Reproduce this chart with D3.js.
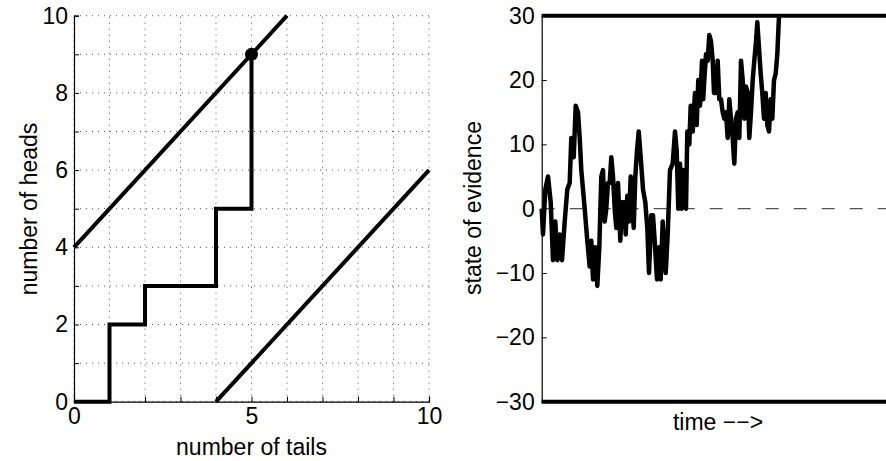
<!DOCTYPE html>
<html>
<head>
<meta charset="utf-8">
<script src="https://cdn.jsdelivr.net/npm/d3@7"></script>
<style>
  body { margin: 0; background: #fff; }
  svg text { font-family: "Liberation Sans", Arial, Helvetica, sans-serif; font-size: 23px; fill: #000; }
</style>
</head>
<body>
<script>
// left panel: coin flips
const gridSteps = [0, 1, 2, 3, 4, 5, 6, 7, 8, 9, 10];
const tailsLabels = [0, 5, 10];
const headsLabels = [0, 2, 4, 6, 8, 10];
const pathTails = [0, 1, 1, 2, 2, 4, 4, 5, 5];
const pathHeads = [0, 0, 2, 2, 3, 3, 5, 5, 9];
const upperTails = [0, 6];
const upperHeads = [4, 10];
const lowerTails = [4, 10];
const lowerHeads = [0, 6];
const stopPoint = [5, 9];

// right panel: random walk of evidence
const evidenceTicks = [-30, -20, -10, 0, 10, 20, 30];
const thresholds = [-30, 30];
const walkTime = [0, 1.3, 3.6, 6.3, 9, 11.3, 13.6, 15.6, 18, 20.3, 23, 25.6, 28, 29.6, 32, 34, 36.3, 38, 39.6, 43,
  45.6, 48, 49.6, 51.3, 53.6, 55.6, 57.6, 59.6, 61.3, 63, 64.6, 66.3, 68, 69.6, 71.3, 73, 74.6, 76.3, 78.6, 80.3,
  82.3, 84, 85.6, 87.3, 89, 90.6, 92, 93.6, 95.3, 97, 99, 101.3, 103.6, 105.6, 107.3, 109.6, 111.3, 113, 115.3, 117.3,
  119, 121, 124, 126, 128.3, 131, 133.3, 135, 136.6, 138.3, 140, 141.6, 144.3, 145.6, 147.6, 149, 151, 153.3, 155, 156.6,
  158.3, 160.3, 161.5, 162.6, 164.3, 166, 167.6, 169.3, 171, 172.3, 174.3, 176, 177.6, 179.3, 181, 182.6, 184.3, 186, 187.6, 189.3,
  191, 192.6, 194.3, 196, 197.6, 199.3, 201, 202.6, 204.3, 206, 207.6, 209.3, 211, 212.6, 214.3, 215.6, 217.3, 219, 220.6, 222.3,
  224, 225.6, 227.3, 229, 230.6, 232.3, 234, 235.6, 237.3];
const walkEvidence = [0, -4, 3, 5, 1, -8, -2, -8, -4, -8, -2, 3, 4, 11, 8, 16, 15, 11, 6, 0,
  -5, -9, -5, -11, -6, -12, -6, 5, 6, -2, 0, 4, 4, 8, 5, 0, -3, 4, -5, 1,
  1, -4, 2, -2, 5, 1, -3, 5, 9, 12, 8, 3, 1, -3, -10, -1, -1, -5, -11, -6,
  -11, -2, -10, -4, 6, 7, 12, 9, 0, 7, 0, 6, 0, 12, 10, 16, 12, 18, 13, 20,
  16, 23, 17, 20, 24, 23, 27, 26, 23, 18, 18, 23, 17, 17, 15, 14, 15, 11, 17, 14,
  11, 7, 14, 15, 11, 23, 20, 14, 19, 18, 11, 15, 20, 23, 26, 29, 25, 21, 18, 14,
  18, 13, 12, 17, 14, 20, 21, 24, 30];

const width = 886, height = 461;
const svg = d3.select("body").append("svg").attr("width", width).attr("height", height);

// ---------- left panel ----------
const xL = d3.scaleLinear().domain([0, 10]).range([74, 429]);
const yL = d3.scaleLinear().domain([0, 10]).range([401.7, 15.7]);
const left = svg.append("g");

// dotted grid
left.selectAll(".vgrid").data(gridSteps).enter().append("line")
  .attr("x1", d => xL(d)).attr("x2", d => xL(d))
  .attr("y1", yL(0)).attr("y2", yL(10))
  .attr("stroke", "#555").attr("stroke-width", 1).attr("stroke-dasharray", "1,5");
left.selectAll(".hgrid").data(gridSteps).enter().append("line")
  .attr("x1", xL(0)).attr("x2", xL(10))
  .attr("y1", d => yL(d)).attr("y2", d => yL(d))
  .attr("stroke", "#555").attr("stroke-width", 1).attr("stroke-dasharray", "1,5");

// axes
const xAxisL = left.append("g").attr("transform", `translate(0,${yL(0)})`)
  .call(d3.axisBottom(xL).tickValues(gridSteps).tickSize(-5).tickPadding(6)
    .tickFormat(d => tailsLabels.includes(d) ? d : ""));
const yAxisL = left.append("g").attr("transform", `translate(${xL(0)},0)`)
  .call(d3.axisLeft(yL).tickValues(gridSteps).tickSize(-5).tickPadding(6)
    .tickFormat(d => headsLabels.includes(d) ? d : ""));
[xAxisL, yAxisL].forEach(a => {
  a.select(".domain").attr("stroke", "#000").attr("stroke-width", 1.2);
  a.selectAll("line").attr("stroke", "#000");
  a.attr("font-size", null).attr("font-family", null);
});

// boundaries and staircase
const lineL = d3.line().x(d => xL(d[0])).y(d => yL(d[1]));
left.append("path").datum(d3.zip(upperTails, upperHeads)).attr("d", lineL)
  .attr("fill", "none").attr("stroke", "#000").attr("stroke-width", 4);
left.append("path").datum(d3.zip(lowerTails, lowerHeads)).attr("d", lineL)
  .attr("fill", "none").attr("stroke", "#000").attr("stroke-width", 4);
left.append("path").datum(d3.zip(pathTails, pathHeads)).attr("d", lineL)
  .attr("fill", "none").attr("stroke", "#000").attr("stroke-width", 4).attr("stroke-linejoin", "miter");
left.append("circle").attr("cx", xL(stopPoint[0])).attr("cy", yL(stopPoint[1])).attr("r", 6.5).attr("fill", "#000");

// labels
left.append("text").attr("x", 251.5).attr("y", 455).attr("text-anchor", "middle").text("number of tails");
left.append("text").attr("transform", "translate(37,209) rotate(-90)").attr("text-anchor", "middle").text("number of heads");

// ---------- right panel ----------
const xR = d3.scaleLinear().domain([0, 352.6]).range([541.7, 894.3]);
const yR = d3.scaleLinear().domain([-30, 30]).range([401.7, 15.7]);
const right = svg.append("g");

// zero reference line
right.append("line")
  .attr("x1", xR(0)).attr("x2", xR(352.6)).attr("y1", yR(0)).attr("y2", yR(0))
  .attr("stroke", "#555").attr("stroke-width", 1.2).attr("stroke-dasharray", "13,15");

const yAxisR = right.append("g").attr("transform", `translate(${xR(0)},0)`)
  .call(d3.axisLeft(yR).tickValues(evidenceTicks).tickSize(-5).tickPadding(7));
yAxisR.select(".domain").attr("stroke", "#000").attr("stroke-width", 1.2);
yAxisR.selectAll("line").attr("stroke", "#000");
yAxisR.attr("font-size", null).attr("font-family", null);

// decision thresholds
right.selectAll(".threshold").data(thresholds).enter().append("line")
  .attr("x1", xR(0)).attr("x2", xR(352.6))
  .attr("y1", d => yR(d)).attr("y2", d => yR(d))
  .attr("stroke", "#000").attr("stroke-width", 4);

// walk
const lineR = d3.line().x(d => xR(d[0])).y(d => yR(d[1]));
right.append("path").datum(d3.zip(walkTime, walkEvidence)).attr("d", lineR)
  .attr("fill", "none").attr("stroke", "#000").attr("stroke-width", 4.5).attr("stroke-linejoin", "round");

right.append("text").attr("x", 718).attr("y", 430).attr("text-anchor", "middle").text("time \u2212\u2212>");
right.append("text").attr("transform", "translate(481,208) rotate(-90)").attr("text-anchor", "middle").text("state of evidence");
</script>
</body>
</html>
